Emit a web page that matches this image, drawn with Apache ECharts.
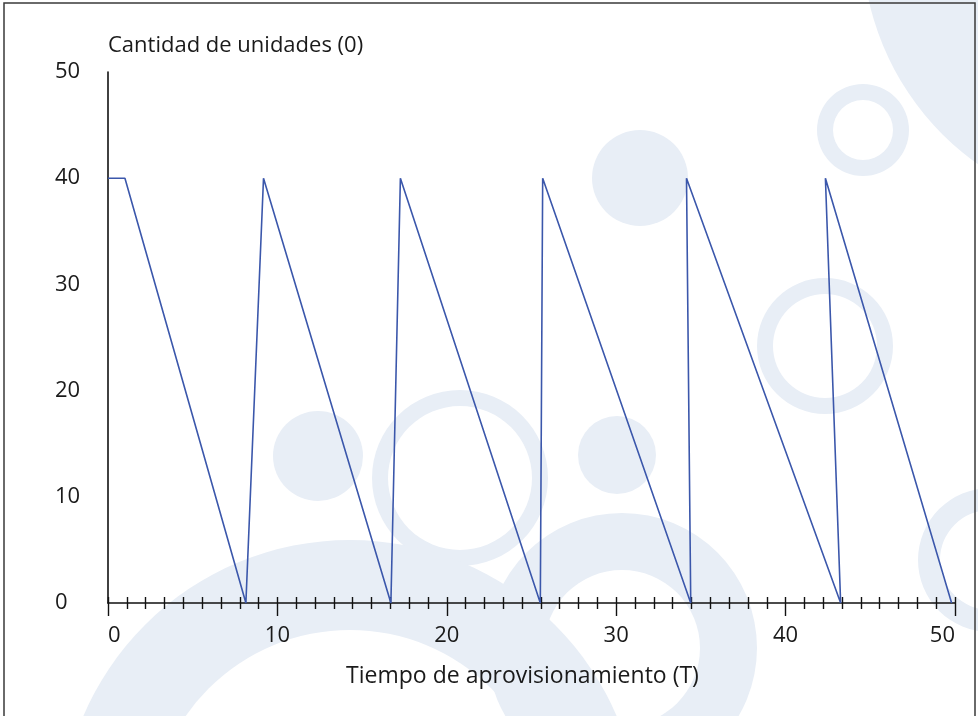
<!DOCTYPE html>
<html>
<head>
<meta charset="utf-8">
<script src="https://cdn.jsdelivr.net/npm/echarts@6/dist/echarts.min.js"></script>
<style>
html,body{margin:0;padding:0;background:#fff;}
#chart{width:978px;height:716px;}
</style>
</head>
<body>
<div id="chart"></div>
<script>
// Data
var timeValues  = [0, 1.0, 8.14, 9.18, 16.7, 17.26, 25.52, 25.66, 34.4, 34.15, 43.25, 42.35, 49.8];
var stockValues = [40, 40, 0, 40, 0, 40, 0, 40, 0, 40, 0, 40, 0];
var yTicks = [0, 10, 20, 30, 40, 50];
var xTicks = [0, 10, 20, 30, 40, 50];
var yTitle = 'Cantidad de unidades (0)';
var xTitle = 'Tiempo de aprovisionamiento (T)';

var seriesData = timeValues.map(function (t, i) { return [t, stockValues[i]]; });

var FONT = 'Open Sans';
var TXT = '#1a1a1a';
var BG = '#e8eef6';

function ring(cx, cy, r0, r) {
  return { type: 'ring', silent: true, z: -10, shape: { cx: cx, cy: cy, r: r, r0: r0 }, style: { fill: BG } };
}
function disc(cx, cy, r) {
  return { type: 'circle', silent: true, z: -10, shape: { cx: cx, cy: cy, r: r }, style: { fill: BG } };
}

var chart = echarts.init(document.getElementById('chart'), null, { renderer: 'canvas' });
chart.setOption({
  backgroundColor: '#ffffff',
  animation: false,
  graphic: [
    disc(1137, -60, 275),
    ring(863, 130, 30, 46),
    disc(640, 178, 48),
    ring(825, 346, 52, 68),
    disc(318, 456, 45),
    ring(460, 478, 72, 88),
    disc(617, 455, 39),
    ring(622, 648, 78, 135),
    ring(350, 830, 200, 290),
    ring(990, 560, 50, 72),
    { type: 'rect', silent: true, z: 100, shape: { x: 4, y: 3, width: 971, height: 730 },
      style: { fill: 'none', stroke: '#3a3a3a', lineWidth: 1.5 } }
  ],
  grid: { left: 108, right: 23, top: 72, bottom: 113, containLabel: false },
  xAxis: [{
    type: 'value', min: xTicks[0], max: xTicks[xTicks.length - 1], interval: 10,
    name: xTitle, nameLocation: 'middle', nameGap: 62,
    nameTextStyle: { fontFamily: FONT, fontSize: 23, color: TXT, padding: [0, 18, 0, 0] },
    axisLine: { show: true, onZero: false, lineStyle: { color: '#111', width: 1.6 } },
    axisTick: { show: true, inside: false, length: 13, lineStyle: { color: '#111', width: 1.4 } },
    minorTick: { show: true, splitNumber: 9, length: 6, lineStyle: { color: '#111', width: 1.4 } },
    splitLine: { show: false },
    axisLabel: { margin: 22, fontFamily: FONT, fontSize: 22, color: TXT,
      alignMinLabel: 'left', alignMaxLabel: 'right',
      formatter: function (v) { return xTicks.indexOf(v) >= 0 ? String(v) : ''; } }
  }, {
    type: 'value', min: xTicks[0], max: xTicks[xTicks.length - 1], interval: 10,
    position: 'bottom', offset: 0,
    axisLine: { show: false },
    axisTick: { show: true, inside: true, length: 6, lineStyle: { color: '#111', width: 1.4 } },
    minorTick: { show: true, splitNumber: 9, length: 6, lineStyle: { color: '#111', width: 1.4 } },
    splitLine: { show: false },
    axisLabel: { show: false }
  }],
  yAxis: {
    type: 'value', min: yTicks[0], max: yTicks[yTicks.length - 1], interval: 10,
    name: yTitle, nameLocation: 'end', nameGap: 15,
    nameTextStyle: { fontFamily: FONT, fontSize: 22, color: TXT, align: 'left' },
    axisLine: { show: true, lineStyle: { color: '#111', width: 1.6 } },
    axisTick: { show: false },
    splitLine: { show: false },
    axisLabel: { margin: 53, align: 'left', fontFamily: FONT, fontSize: 22, color: TXT }
  },
  series: [{
    type: 'line',
    xAxisIndex: 0,
    data: seriesData,
    showSymbol: false,
    symbol: 'none',
    lineStyle: { color: '#3b57ab', width: 1.6 },
    z: 5
  }]
});
</script>
</body>
</html>
